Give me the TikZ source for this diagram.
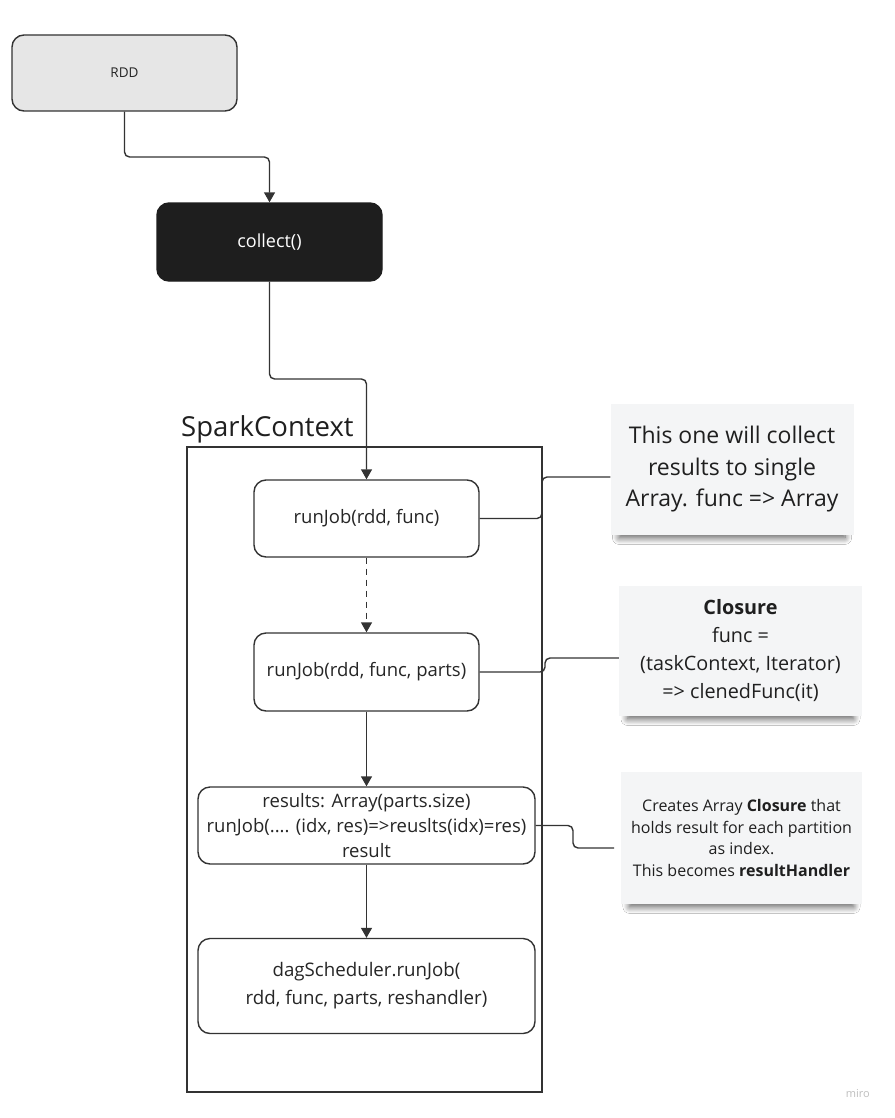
\documentclass[tikz,border=0pt]{standalone}
\usepackage{fontspec}
\setmainfont{Open Sans}
\usetikzlibrary{arrows.meta,shadows.blur}
\definecolor{ln}{HTML}{333333}
\definecolor{rddfill}{HTML}{E6E6E6}
\definecolor{dark}{HTML}{1E1E1E}
\definecolor{note}{HTML}{F4F5F6}
\tikzset{
  box/.style={draw=ln, line width=1.4pt, rounded corners=12pt, align=center, inner sep=0pt, text=black!85},
  conn/.style={draw=ln, line width=1.4pt, rounded corners=5pt},
  arr/.style={conn, -{Triangle[length=10pt,width=11pt]}},
  notebox/.style={fill=note, draw=none, align=center, inner sep=0pt, text=black!88,
    blur shadow={shadow xshift=0pt, shadow yshift=-8pt, shadow blur steps=14, shadow blur radius=7pt, shadow scale=0.93, shadow opacity=65}},
}
\begin{document}
\begin{tikzpicture}[x=1pt,y=-1pt]
\useasboundingbox (0,0) rectangle (894,1118);
\fill[white] (0,0) rectangle (894,1118);
% container
\draw[ln, line width=1.4pt] (187,447) rectangle (542,1092);
\node[anchor=base west, font=\fontsize{27.5}{30}\selectfont, text=black!88, inner sep=0pt] (sc) at (181,436) {SparkContext};
% nodes
\node[box, fill=rddfill, minimum width=225pt, minimum height=76pt, font=\fontsize{13.5}{16}\selectfont] (rdd) at (124.5,73) {RDD};
\node[box, fill=dark, draw=dark, text=white, minimum width=225pt, minimum height=78pt, font=\fontsize{18}{21}\selectfont] (col) at (269.5,242) {collect()};
\node[box, fill=white, minimum width=225pt, minimum height=77pt, font=\fontsize{18.5}{21}\selectfont] (rj1) at (366.5,518.5) {runJob(rdd, func)};
\node[box, fill=white, minimum width=225pt, minimum height=78pt, font=\fontsize{18.5}{21}\selectfont] (rj2) at (366.5,672) {runJob(rdd, func, parts)};
\node[box, fill=white, minimum width=337pt, minimum height=77pt, font=\fontsize{18.5}{25}\selectfont] (res) at (366.5,825.5) {results: Array(parts.size)\\runJob(.... (idx, res)=>reuslts(idx)=res)\\result};
\node[box, fill=white, minimum width=337pt, minimum height=95pt, font=\fontsize{18.7}{28}\selectfont] (dag) at (366.5,986) {dagScheduler.runJob(\\rdd, func, parts, reshandler)};
% notes
\node[notebox, minimum width=243pt, minimum height=131pt, font=\fontsize{23}{31.5}\selectfont] (n1) at (732,469.5) {This one will collect\\results to single\\Array. func => Array};
\node[notebox, minimum width=243pt, minimum height=130pt, font=\fontsize{19.8}{28}\selectfont] (n2) at (740.5,651) {\textbf{Closure}\\func =\\(taskContext, Iterator)\\=> clenedFunc(it)};
\node[notebox, minimum width=241pt, minimum height=132pt, font=\fontsize{16}{21.5}\selectfont] (n3) at (741.5,838) {Creates Array \textbf{Closure} that\\holds result for each partition\\as index.\\This becomes \textbf{resultHandler}};
\node[anchor=base east, font=\fontsize{11}{12}\selectfont, text=black!25, inner sep=0pt] (miro) at (870,1097) {miro};
% connectors
\draw[arr] (rdd.south) |- (197,157) -| (col.north);
\draw[arr] (col.south) |- (318,379) -| (rj1.north);
\draw[arr, dashed, dash pattern=on 6pt off 5pt] (rj1.south) -- (rj2.north);
\draw[arr] (rj2.south) -- (res.north);
\draw[arr] (res.south) -- (dag.north);
\draw[conn] (rj1.east) -| (542,477) -- (n1.west |- 0,477);
\draw[conn] (rj2.east) -| (545,658) -- (n2.west |- 0,658);
\draw[conn] (res.east) -| (573,848) -- (614,848);
\end{tikzpicture}
\end{document}
